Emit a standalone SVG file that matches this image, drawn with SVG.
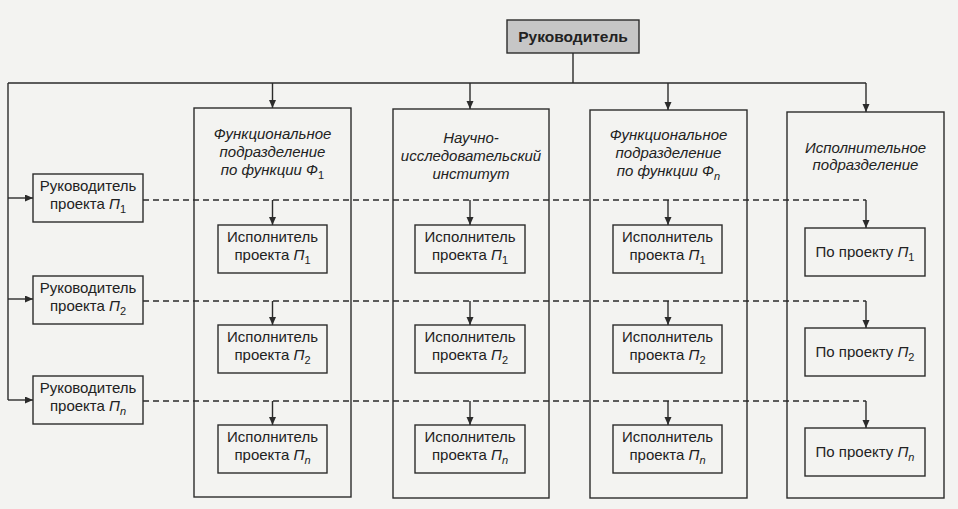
<svg xmlns="http://www.w3.org/2000/svg" width="958" height="509" viewBox="0 0 958 509">
<defs>
<marker id="ah" markerUnits="userSpaceOnUse" markerWidth="9" markerHeight="8" refX="8" refY="3.5" orient="auto">
<path d="M0,0 L8,3.5 L0,7 z" fill="#2b2b2b"/>
</marker>
<style>
.box{fill:none;stroke:#2b2b2b;stroke-width:1.4}
.ln{fill:none;stroke:#2b2b2b;stroke-width:1.4}
.arr{fill:none;stroke:#2b2b2b;stroke-width:1.4;marker-end:url(#ah)}
.dash{fill:none;stroke:#2b2b2b;stroke-width:1.4;stroke-dasharray:6 4}
text{font-family:"Liberation Sans",Arial,sans-serif;font-size:15px;fill:#222;text-anchor:middle}
.it{font-style:italic}
.b{font-weight:bold;font-size:15.5px}
.sub{font-size:11px}
</style>
</defs>
<rect width="958" height="509" fill="#f3f3f1"/>

<g id="connectors">
<path class="ln" d="M573,53 V83 M8,83 H866 M8,83 V400"/>
<path class="arr" d="M272.5,83 V108"/>
<path class="arr" d="M470,83 V109"/>
<path class="arr" d="M668,83 V110"/>
<path class="arr" d="M866,83 V112"/>
<path class="arr" d="M8,198 H33"/>
<path class="arr" d="M8,299 H33"/>
<path class="arr" d="M8,400 H33"/>
<path class="dash" d="M143,200 H866"/>
<path class="dash" d="M143,301 H866"/>
<path class="dash" d="M143,401 H866"/>
<path class="arr" d="M272.5,200 V225"/>
<path class="arr" d="M470,200 V225"/>
<path class="arr" d="M668,200 V225"/>
<path class="arr" d="M866,200 V228"/>
<path class="arr" d="M272.5,301 V325"/>
<path class="arr" d="M470,301 V325"/>
<path class="arr" d="M668,301 V325"/>
<path class="arr" d="M866,301 V328"/>
<path class="arr" d="M272.5,401 V425"/>
<path class="arr" d="M470,401 V425"/>
<path class="arr" d="M668,401 V425"/>
<path class="arr" d="M866,401 V428"/>
</g>

<g id="head">
<rect x="507" y="20" width="132" height="33" fill="#c6c6c6" stroke="#2b2b2b" stroke-width="1.4"/>
<text class="b" x="573" y="42">Руководитель</text>
</g>

<g id="pm1"><rect class="box" x="33" y="174" width="110" height="48"/>
<text x="88" y="191">Руководитель</text>
<text x="88" y="209">проекта <tspan class="it">П</tspan><tspan class="sub" dy="4">1</tspan></text></g>
<g id="pm2"><rect class="box" x="33" y="276" width="110" height="48"/>
<text x="88" y="293">Руководитель</text>
<text x="88" y="311">проекта <tspan class="it">П</tspan><tspan class="sub" dy="4">2</tspan></text></g>
<g id="pmn"><rect class="box" x="33" y="376" width="110" height="48"/>
<text x="88" y="393">Руководитель</text>
<text x="88" y="411">проекта <tspan class="it">П</tspan><tspan class="sub it" dy="4">n</tspan></text></g>

<g id="col1"><rect class="box" x="194" y="108" width="157" height="389"/>
<text class="it" x="272.5" y="139">Функциональное</text>
<text class="it" x="272.5" y="157">подразделение</text>
<text class="it" x="272.5" y="175">по функции Ф<tspan class="sub" font-style="normal" dy="4">1</tspan></text></g>
<g id="col2"><rect class="box" x="393" y="109" width="156" height="389"/>
<text class="it" x="471" y="143">Научно-</text>
<text class="it" x="471" y="161">исследовательский</text>
<text class="it" x="471" y="179">институт</text></g>
<g id="col3"><rect class="box" x="590" y="110" width="157" height="388"/>
<text class="it" x="668.5" y="140">Функциональное</text>
<text class="it" x="668.5" y="158">подразделение</text>
<text class="it" x="668.5" y="176">по функции Ф<tspan class="sub" dy="4">n</tspan></text></g>
<g id="col4"><rect class="box" x="787" y="112" width="157" height="386"/>
<text class="it" x="865.5" y="153">Исполнительное</text>
<text class="it" x="865.5" y="170">подразделение</text></g>

<g id="e11"><rect class="box" x="218" y="225" width="109" height="48"/>
<text x="272.5" y="242">Исполнитель</text>
<text x="272.5" y="260">проекта <tspan class="it">П</tspan><tspan class="sub" dy="4">1</tspan></text></g>
<g id="e12"><rect class="box" x="218" y="325" width="109" height="48"/>
<text x="272.5" y="342">Исполнитель</text>
<text x="272.5" y="360">проекта <tspan class="it">П</tspan><tspan class="sub" dy="4">2</tspan></text></g>
<g id="e1n"><rect class="box" x="218" y="425" width="109" height="48"/>
<text x="272.5" y="442">Исполнитель</text>
<text x="272.5" y="460">проекта <tspan class="it">П</tspan><tspan class="sub it" dy="4">n</tspan></text></g>

<g id="e21"><rect class="box" x="415" y="225" width="110" height="48"/>
<text x="470" y="242">Исполнитель</text>
<text x="470" y="260">проекта <tspan class="it">П</tspan><tspan class="sub" dy="4">1</tspan></text></g>
<g id="e22"><rect class="box" x="415" y="325" width="110" height="48"/>
<text x="470" y="342">Исполнитель</text>
<text x="470" y="360">проекта <tspan class="it">П</tspan><tspan class="sub" dy="4">2</tspan></text></g>
<g id="e2n"><rect class="box" x="415" y="425" width="110" height="48"/>
<text x="470" y="442">Исполнитель</text>
<text x="470" y="460">проекта <tspan class="it">П</tspan><tspan class="sub it" dy="4">n</tspan></text></g>

<g id="e31"><rect class="box" x="613" y="225" width="109" height="48"/>
<text x="667.5" y="242">Исполнитель</text>
<text x="667.5" y="260">проекта <tspan class="it">П</tspan><tspan class="sub" dy="4">1</tspan></text></g>
<g id="e32"><rect class="box" x="613" y="325" width="109" height="48"/>
<text x="667.5" y="342">Исполнитель</text>
<text x="667.5" y="360">проекта <tspan class="it">П</tspan><tspan class="sub" dy="4">2</tspan></text></g>
<g id="e3n"><rect class="box" x="613" y="425" width="109" height="48"/>
<text x="667.5" y="442">Исполнитель</text>
<text x="667.5" y="460">проекта <tspan class="it">П</tspan><tspan class="sub it" dy="4">n</tspan></text></g>

<g id="e41"><rect class="box" x="805" y="228" width="120" height="48"/>
<text x="865" y="257">По проекту <tspan class="it">П</tspan><tspan class="sub" dy="4">1</tspan></text></g>
<g id="e42"><rect class="box" x="805" y="328" width="120" height="48"/>
<text x="865" y="357">По проекту <tspan class="it">П</tspan><tspan class="sub" dy="4">2</tspan></text></g>
<g id="e4n"><rect class="box" x="805" y="428" width="120" height="48"/>
<text x="865" y="457">По проекту <tspan class="it">П</tspan><tspan class="sub it" dy="4">n</tspan></text></g>
</svg>
